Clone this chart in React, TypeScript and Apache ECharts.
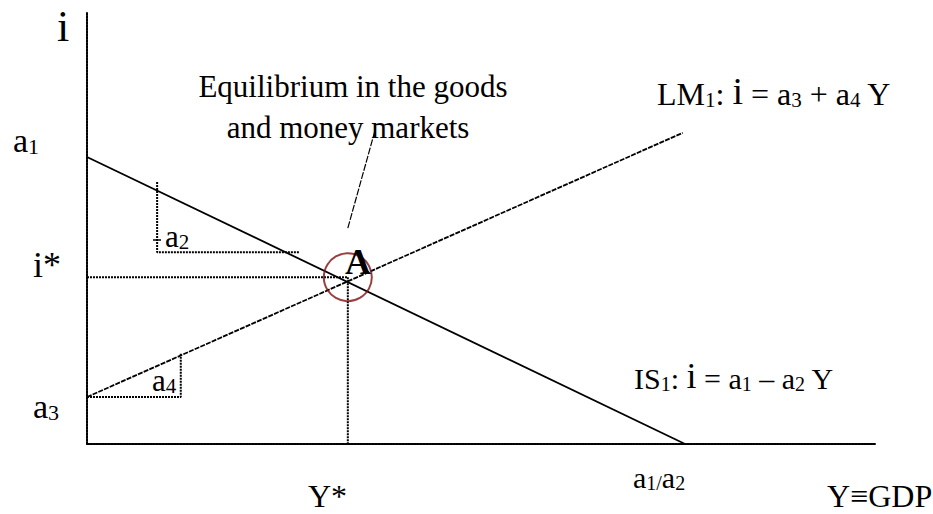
import React, { useEffect, useRef } from "react";
import * as echarts from "echarts";

const FONT = '"Liberation Serif", "Times New Roman", Times, serif';

// Axis ranges (model units)
const xRange = [0, 10];
const yRange = [0, 10];

// IS curve: i = a1 - a2 Y  (intercept a1, root a1/a2)
const isCurve = [
  [0, 6.66],
  [7.59, 0],
];
// LM curve: i = a3 + a4 Y
const lmCurve = [
  [0, 1.09],
  [7.56, 7.22],
];
// Equilibrium point A (Y*, i*)
const equilibrium = [[3.31, 3.87]];
const iStarGuide = [
  [0, 3.87],
  [3.31, 3.87],
];
const yStarGuide = [
  [3.31, 3.87],
  [3.31, 0],
];
// Slope triangles
const a2Slope = [
  [0.89, 6.08],
  [0.89, 4.45],
  [2.7, 4.45],
];
const a4Slope = [
  [0, 1.09],
  [1.19, 1.09],
  [1.19, 2.11],
];
// Callout from the note to point A
const calloutLine = [
  [3.31, 5.01],
  [3.65, 7.24],
];

// Texts
const noteLines = ["Equilibrium in the goods", "and money markets"];

type Part = [string, string];

function richLabel(
  parts: Part[],
  F: number,
  f: number,
  F2: number,
  x: number,
  baseline: number,
  align: string = "left",
  bold: boolean = false
) {
  const h = F - 2 * (0.15 * F + 0.3375 * (F - f));
  const base = { fontFamily: FONT, fill: "#000", verticalAlign: "bottom", fontWeight: bold ? "bold" : "normal" };
  return {
    type: "text",
    x,
    y: baseline + 0.1625 * F,
    silent: true,
    z: 100,
    style: {
      text: parts.map(([t, k]) => `{${k}|${t}}`).join(""),
      align,
      verticalAlign: "bottom",
      rich: {
        m: { ...base, fontSize: F, lineHeight: F },
        s: { ...base, fontSize: f, lineHeight: h },
        b: { ...base, fontSize: F2, lineHeight: F2 },
      },
    },
  };
}

const dotted = { color: "#000", width: 2, type: [2, 1] as any };

function lineSeries(data: number[][], lineStyle: any, z = 2) {
  return {
    type: "line",
    data,
    showSymbol: false,
    symbol: "none",
    clip: false,
    silent: true,
    z,
    lineStyle,
  };
}

export default function App() {
  const ref = useRef<HTMLDivElement>(null);
  useEffect(() => {
    if (!ref.current) return;
    const chart = echarts.init(ref.current, undefined, { renderer: "svg" });
    const option: any = {
      animation: false,
      backgroundColor: "#fff",
      grid: { left: 87, top: 13, width: 788, height: 431 },
      xAxis: {
        type: "value",
        min: xRange[0],
        max: xRange[1],
        axisLine: { show: true, lineStyle: dotted },
        axisTick: { show: false },
        axisLabel: { show: false },
        splitLine: { show: false },
      },
      yAxis: {
        type: "value",
        min: yRange[0],
        max: yRange[1],
        axisLine: { show: true, lineStyle: dotted },
        axisTick: { show: false },
        axisLabel: { show: false },
        splitLine: { show: false },
      },
      series: [
        lineSeries(isCurve, { color: "#000", width: 1.8, type: "solid" }, 3),
        lineSeries(lmCurve, { color: "#000", width: 1.8, type: [5, 1.2] }, 3),
        lineSeries(iStarGuide, dotted),
        lineSeries(yStarGuide, dotted),
        lineSeries(a2Slope, dotted),
        lineSeries(a4Slope, dotted),
        lineSeries(calloutLine, { color: "#000", width: 1.2, type: [7, 1.5] }),
        {
          type: "scatter",
          data: equilibrium,
          symbol: "circle",
          symbolSize: 48,
          silent: true,
          z: 5,
          itemStyle: { color: "rgba(0,0,0,0)", borderColor: "#7f0f0f", borderWidth: 2 },
        },
      ],
      graphic: [
        richLabel([["i", "m"]], 44, 30, 44, 63, 41, "center"),
        richLabel([["a", "m"], ["1", "s"]], 34, 22, 34, 13, 152),
        richLabel([["i*", "m"]], 36, 22, 36, 33, 277),
        richLabel([["a", "m"], ["3", "s"]], 34, 22, 34, 33, 418),
        richLabel([["Y*", "m"]], 32, 22, 32, 308, 507),
        richLabel([["a", "m"], ["1/", "s"], ["a", "m"], ["2", "s"]], 30, 20, 30, 633, 488),
        richLabel([["Y≡GDP", "m"]], 32, 22, 32, 827, 507),
        richLabel(
          [["LM", "m"], ["1", "s"], [": ", "m"], ["i", "b"], [" = a", "m"], ["3", "s"], [" + a", "m"], ["4", "s"], [" Y", "m"]],
          32, 21, 38, 657, 105
        ),
        richLabel(
          [["IS", "m"], ["1", "s"], [": ", "m"], ["i", "b"], [" = a", "m"], ["1", "s"], [" – a", "m"], ["2", "s"], [" Y", "m"]],
          30, 20, 36, 634, 389
        ),
        richLabel([[noteLines[0], "m"]], 31, 20, 31, 353, 97, "center"),
        richLabel([[noteLines[1], "m"]], 31, 20, 31, 348, 138, "center"),
        richLabel([["A", "m"]], 36, 20, 36, 358, 274, "center", true),
        richLabel([["a", "m"], ["2", "s"]], 31, 21, 31, 165, 247),
        richLabel([["a", "m"], ["4", "s"]], 31, 21, 31, 152, 391),
        {
          type: "line",
          silent: true,
          shape: { x1: 153, y1: 240, x2: 161, y2: 240 },
          style: { stroke: "#000", lineWidth: 1.5 },
        },
      ],
    };
    chart.setOption(option);
    return () => chart.dispose();
  }, []);
  return (
    <div
      ref={ref}
      style={{ position: "fixed", left: 0, top: 0, width: 933, height: 514, background: "#fff" }}
    />
  );
}
